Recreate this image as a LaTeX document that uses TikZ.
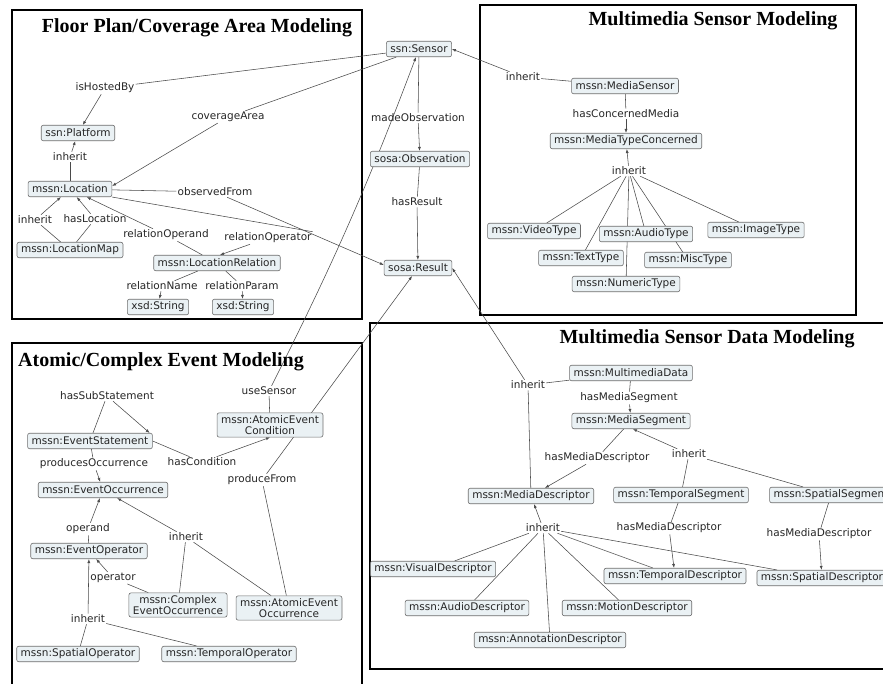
\documentclass[tikz,border=0pt]{standalone}
\usepackage{fontspec}
\setmainfont{Liberation Serif}
\newfontfamily\classfont{DejaVu Sans}
\usetikzlibrary{arrows.meta}
\pgfdeclarelayer{background}
\pgfsetlayers{background,main}
\definecolor{classfill}{HTML}{EAF1F4}
\definecolor{classdraw}{HTML}{6E6E6E}
\definecolor{linkgray}{HTML}{4A4A4A}
\tikzset{
        % Class boxes
        node_class/.style={draw=classdraw, fill=classfill, rounded corners=2pt, line width=0.6pt, inner xsep=4pt, inner ysep=2.5pt, minimum height=15.5pt, align=center, text=black!85, font=\classfont\fontsize{10.5}{11}\selectfont},
        % Edge labels
        node_label/.style={inner sep=1pt, text=black!85, font=\classfont\fontsize{10.5}{11}\selectfont},
        % Section titles
        node_title/.style={inner sep=0pt, font=\bfseries\fontsize{20}{22}\selectfont},
        % Section frames
        frame_box/.style={draw=black, line width=1.4pt},
        % Connectors
        link/.style={draw=linkgray, line width=0.55pt},
        link_arrow/.style={link, -{Latex[length=4pt,width=3pt]}}
}

\begin{document}
\begin{tikzpicture}[x=1pt, y=-1pt]
            \useasboundingbox (0,0) rectangle (883,684);

            \node[node_title] (title_floor) at (197,28) {Floor Plan/Coverage Area Modeling};
            \node[node_title] (title_sensor) at (713,21) {Multimedia Sensor Modeling};
            \node[node_title] (title_event) at (161,362) {Atomic/Complex Event Modeling};
            \node[node_title] (title_data) at (707,339) {Multimedia Sensor Data Modeling};

            \node[node_class] (sensor) at (419,49) {ssn:Sensor};
            \node[node_class] (platform) at (78,133) {ssn:Platform};
            \node[node_class] (location) at (70,189) {mssn:Location};
            \node[node_class] (locmap) at (70,250) {mssn:LocationMap};
            \node[node_class] (locrel) at (217,263) {mssn:LocationRelation};
            \node[node_class] (str_name) at (158,307) {xsd:String};
            \node[node_class] (str_param) at (243,307) {xsd:String};
            \node[node_class] (observation) at (420,159) {sosa:Observation};
            \node[node_class] (result) at (418,268) {sosa:Result};

            \node[node_label] (l_hosted) at (105,88) {isHostedBy};
            \node[node_label] (l_coverage) at (228,117) {coverageArea};
            \node[node_label] (l_inh_platform) at (70,157) {inherit};
            \node[node_label] (l_observed) at (215,192) {observedFrom};
            \node[node_label] (l_inh_location) at (35,220) {inherit};
            \node[node_label] (l_has_location) at (95,219) {hasLocation};
            \node[node_label] (l_operand) at (166,235) {relationOperand};
            \node[node_label] (l_operator) at (268,238) {relationOperator};
            \node[node_label] (l_rel_name) at (162,286) {relationName};
            \node[node_label] (l_rel_param) at (242,286) {relationParam};
            \node[node_label] (l_made_obs) at (418,118) {madeObservation};
            \node[node_label] (l_has_result) at (417,202) {hasResult};

            \node[node_class] (mediasensor) at (625,86) {mssn:MediaSensor};
            \node[node_class] (mediatype) at (626,141) {mssn:MediaTypeConcerned};
            \node[node_class] (videotype) at (534,231) {mssn:VideoType};
            \node[node_class] (audiotype) at (646,234) {mssn:AudioType};
            \node[node_class] (imagetype) at (756,230) {mssn:ImageType};
            \node[node_class] (texttype) at (581,258) {mssn:TextType};
            \node[node_class] (misctype) at (688,260) {mssn:MiscType};
            \node[node_class] (numerictype) at (626,284) {mssn:NumericType};

            \node[node_label] (l_inh_sensor) at (523,77) {inherit};
            \node[node_label] (l_concerned) at (626,114) {hasConcernedMedia};
            \node[node_label] (l_inh_media) at (629,171) {inherit};

            \node[node_class] (condition) at (270,425) {mssn:AtomicEvent\\Condition};
            \node[node_class] (statement) at (90,441) {mssn:EventStatement};
            \node[node_class] (occurrence) at (103,490) {mssn:EventOccurrence};
            \node[node_class] (operator) at (89,551) {mssn:EventOperator};
            \node[node_class] (complexocc) at (178,605) {mssn:Complex\\EventOccurrence};
            \node[node_class] (atomicocc) at (289,608) {mssn:AtomicEvent\\Occurrence};
            \node[node_class] (spatialop) at (78,654) {mssn:SpatialOperator};
            \node[node_class] (temporalop) at (229,654) {mssn:TemporalOperator};

            \node[node_label] (l_sub_stmt) at (107,396) {hasSubStatement};
            \node[node_label] (l_use_sensor) at (269,391) {useSensor};
            \node[node_label] (l_has_cond) at (202,462) {hasCondition};
            \node[node_label] (l_produces) at (94,464) {producesOccurrence};
            \node[node_label] (l_produce_from) at (262,480) {produceFrom};
            \node[node_label] (l_operand_ev) at (88,529) {operand};
            \node[node_label] (l_inh_occ) at (186,537) {inherit};
            \node[node_label] (l_operator_ev) at (113,578) {operator};
            \node[node_label] (l_inh_op) at (88,619) {inherit};

            \node[node_class] (mmdata) at (631,373) {mssn:MultimediaData};
            \node[node_class] (segment) at (631,421) {mssn:MediaSegment};
            \node[node_class] (descriptor) at (531,496) {mssn:MediaDescriptor};
            \node[node_class] (tempseg) at (681,495) {mssn:TemporalSegment};
            \node[node_class] (spatseg) at (831,495) {mssn:SpatialSegment};
            \node[node_class] (visualdesc) at (433,569) {mssn:VisualDescriptor};
            \node[node_class] (tempdesc) at (675,576) {mssn:TemporalDescriptor};
            \node[node_class] (spatdesc) at (822,578) {mssn:SpatialDescriptor};
            \node[node_class] (audiodesc) at (467,608) {mssn:AudioDescriptor};
            \node[node_class] (motiondesc) at (627,608) {mssn:MotionDescriptor};
            \node[node_class] (annotdesc) at (550,640) {mssn:AnnotationDescriptor};

            \node[node_label] (l_inh_result) at (528,385) {inherit};
            \node[node_label] (l_has_seg) at (629,398) {hasMediaSegment};
            \node[node_label] (l_has_desc) at (597,458) {hasMediaDescriptor};
            \node[node_label] (l_inh_seg) at (689,454) {inherit};
            \node[node_label] (l_inh_desc) at (543,528) {inherit};
            \node[node_label] (l_temp_desc) at (669,528) {hasMediaDescriptor};
            \node[node_label] (l_spat_desc) at (819,534) {hasMediaDescriptor};

            \begin{pgfonlayer}{background}
                \fill[white] (0,0) rectangle (883,684);
                \draw[frame_box] (12,10) rectangle (362,319);
                \draw[frame_box] (480,5) rectangle (856,315);
                \draw[frame_box] (12,343) rectangle (362,700);
                \draw[frame_box] (370,323) rectangle (900,669);

                \draw[link] (sensor) -- (l_hosted);
                \draw[link_arrow] (l_hosted) -- (platform);
                \draw[link] (sensor) -- (l_coverage);
                \draw[link_arrow] (l_coverage) -- ([yshift=3pt]location.east);
                \draw[link] (location) -- (l_inh_platform);
                \draw[link_arrow] (l_inh_platform) -- (platform);
                \draw[link] (location) -- (l_observed);
                \draw[link_arrow] (l_observed) -- ([yshift=3pt]result.west);
                \draw[link] (locmap) -- (l_inh_location);
                \draw[link_arrow] (l_inh_location) -- (location);
                \draw[link] (locmap) -- (l_has_location);
                \draw[link_arrow] (l_has_location) -- (location);
                \draw[link] (locrel) -- (l_operand);
                \draw[link_arrow] (l_operand) -- (location);
                \draw[link] (location.south east) -- (l_operator.north east);
                \draw[link_arrow] ([xshift=-18pt]l_operator.south) -- ([xshift=3pt]locrel.north);
                \draw[link] (locrel) -- (l_rel_name);
                \draw[link_arrow] (l_rel_name) -- (str_name);
                \draw[link] (locrel) -- (l_rel_param);
                \draw[link_arrow] (l_rel_param) -- (str_param);
                \draw[link] (sensor) -- (l_made_obs);
                \draw[link_arrow] (l_made_obs) -- (observation);
                \draw[link] (observation) -- (l_has_result);
                \draw[link_arrow] (l_has_result) -- (result);

                \draw[link] (mediasensor) -- (l_inh_sensor);
                \draw[link_arrow] (l_inh_sensor) -- (sensor.east);
                \draw[link] (mediasensor) -- (l_concerned);
                \draw[link_arrow] (l_concerned) -- (mediatype);
                \draw[link] (videotype) -- (l_inh_media);
                \draw[link] (audiotype) -- (l_inh_media);
                \draw[link] (imagetype) -- (l_inh_media);
                \draw[link] (texttype) -- (l_inh_media);
                \draw[link] (misctype) -- (l_inh_media);
                \draw[link] (numerictype) -- (l_inh_media);
                \draw[link_arrow] (l_inh_media) -- (mediatype);

                \draw[link] ([xshift=3pt]statement.north) -- (l_sub_stmt);
                \draw[link_arrow] (l_sub_stmt) -- ([xshift=-3pt]statement.north east);
                \draw[link] (condition) -- (l_use_sensor);
                \draw[link_arrow] (l_use_sensor) to[bend right=3] (sensor);
                \draw[link] (statement.east) -- (l_has_cond);
                \draw[link_arrow] (l_has_cond) -- (condition.south);
                \draw[link] (statement) -- (l_produces);
                \draw[link_arrow] (l_produces) -- (occurrence);
                \draw[link] (atomicocc) -- (l_produce_from);
                \draw[link_arrow] (l_produce_from) -- (result);
                \draw[link] (operator) -- (l_operand_ev);
                \draw[link_arrow] (l_operand_ev) -- (occurrence);
                \draw[link] (complexocc) -- (l_inh_occ);
                \draw[link] (atomicocc) -- (l_inh_occ);
                \draw[link_arrow] (l_inh_occ) -- (occurrence);
                \draw[link] (complexocc) -- (l_operator_ev);
                \draw[link_arrow] (l_operator_ev) -- (operator);
                \draw[link] (spatialop) -- (l_inh_op);
                \draw[link] (temporalop) -- (l_inh_op);
                \draw[link_arrow] (l_inh_op) -- (operator);

                \draw[link] (mmdata) -- (l_inh_result);
                \draw[link] (descriptor) -- (l_inh_result);
                \draw[link_arrow] (l_inh_result) -- (result.east);
                \draw[link] (mmdata) -- (l_has_seg);
                \draw[link_arrow] (l_has_seg) -- (segment);
                \draw[link] (segment) -- (l_has_desc);
                \draw[link_arrow] (l_has_desc) -- (descriptor);
                \draw[link] (tempseg) -- (l_inh_seg);
                \draw[link] (spatseg) -- (l_inh_seg);
                \draw[link_arrow] (l_inh_seg) -- ([xshift=2pt]segment.south);
                \draw[link] (tempseg) -- (l_temp_desc);
                \draw[link_arrow] (l_temp_desc) -- (tempdesc);
                \draw[link] (spatseg) -- (l_spat_desc);
                \draw[link_arrow] (l_spat_desc) -- (spatdesc);
                \draw[link] (visualdesc) -- (l_inh_desc);
                \draw[link] (audiodesc) -- (l_inh_desc);
                \draw[link] (annotdesc) -- (l_inh_desc);
                \draw[link] (motiondesc) -- (l_inh_desc);
                \draw[link] (tempdesc) -- (l_inh_desc);
                \draw[link] (spatdesc) -- (l_inh_desc);
                \draw[link_arrow] (l_inh_desc) -- (descriptor);
            \end{pgfonlayer}
\end{tikzpicture}
\end{document}
